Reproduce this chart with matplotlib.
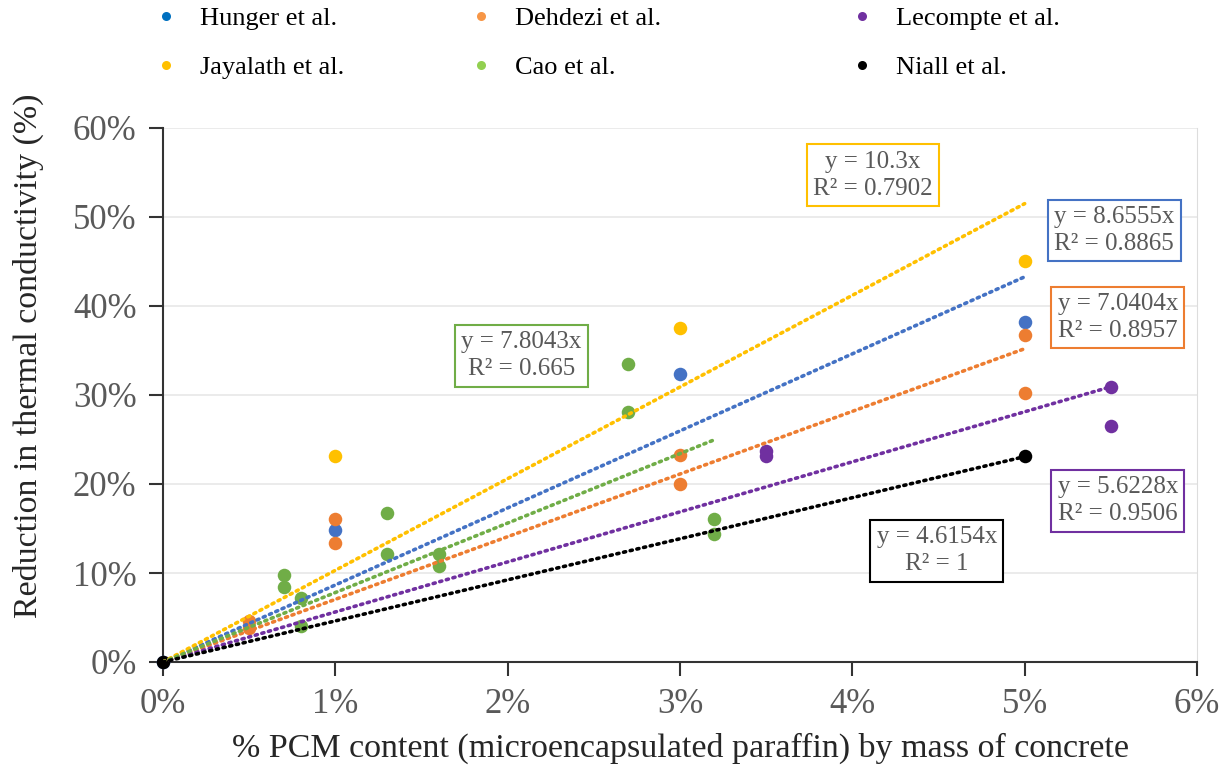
import matplotlib
matplotlib.use("Agg")
import matplotlib.pyplot as plt
import numpy as np
from matplotlib.ticker import PercentFormatter, MultipleLocator
from matplotlib.lines import Line2D

plt.rcParams['font.family'] = ['Liberation Serif', 'DejaVu Serif']

# data: fraction of PCM by mass vs reduction in thermal conductivity
names = ["Hunger et al.", "Dehdezi et al.", "Lecompte et al.",
         "Jayalath et al.", "Cao et al.", "Niall et al."]

hunger_x = [0.0, 0.01, 0.03, 0.05]
hunger_y = [0.0, 0.148, 0.324, 0.382]
dehdezi_x = [0.005, 0.005, 0.01, 0.01, 0.03, 0.03, 0.05, 0.05]
dehdezi_y = [0.046, 0.038, 0.161, 0.134, 0.233, 0.200, 0.367, 0.302]
lecompte_x = [0.035, 0.035, 0.055, 0.055]
lecompte_y = [0.237, 0.232, 0.309, 0.265]
jayalath_x = [0.01, 0.03, 0.05]
jayalath_y = [0.231, 0.375, 0.451]
cao_x = [0.007, 0.007, 0.008, 0.008, 0.013, 0.013, 0.016, 0.016, 0.027, 0.027, 0.032, 0.032]
cao_y = [0.098, 0.084, 0.072, 0.040, 0.167, 0.121, 0.121, 0.108, 0.335, 0.281, 0.161, 0.144]
niall_x = [0.0, 0.05]
niall_y = [0.0, 0.232]

# linear trendlines through origin (values from the chart labels)
slopes = [8.6555, 7.0404, 5.6228, 10.3, 7.8043, 4.6154]
r2 = ["0.8865", "0.8957", "0.9506", "0.7902", "0.665", "1"]
slope_txt = ["8.6555", "7.0404", "5.6228", "10.3", "7.8043", "4.6154"]
label_pos = [(0.0552, 0.485), (0.0554, 0.387), (0.0554, 0.181),
             (0.0412, 0.547), (0.0208, 0.344), (0.0449, 0.125)]

colors = ["#4472C4", "#ED7D31", "#7030A0", "#FFC000", "#70AD47", "#000000"]
legend_colors = ["#0070C0", "#F79646", "#7030A0", "#FFC000", "#92D050", "#000000"]

xs = [hunger_x, dehdezi_x, lecompte_x, jayalath_x, cao_x, niall_x]
ys = [hunger_y, dehdezi_y, lecompte_y, jayalath_y, cao_y, niall_y]

fig = plt.figure(figsize=(12.29, 7.67), dpi=100)
ax = fig.add_axes([163/1229, 1-662/767, (1197-163)/1229, (662-128)/767])

for x, y, c in zip(xs, ys, colors):
    ax.scatter(x, y, s=95, color=c, zorder=3, linewidths=0, clip_on=False)

for x, m, c, s, r, pos in zip(xs, slopes, colors, slope_txt, r2, label_pos):
    xx = np.array([0, max(x)])
    ax.plot(xx, m*xx, color=c, lw=2.6, linestyle=(0, (0.6, 1.3)),
            dash_capstyle='round', zorder=4)
    ax.text(pos[0], pos[1], "y = %sx\nR² = %s" % (s, r), ha='center', va='center',
            multialignment='center', fontsize=18, color='#595959', linespacing=1.3,
            zorder=5,
            bbox=dict(boxstyle='square,pad=0.25', facecolor='white', edgecolor=c, lw=1.5))

ax.set_xlim(0, 0.06)
ax.set_ylim(0, 0.6)
ax.xaxis.set_major_locator(MultipleLocator(0.01))
ax.yaxis.set_major_locator(MultipleLocator(0.1))
ax.xaxis.set_major_formatter(PercentFormatter(1.0, decimals=0))
ax.yaxis.set_major_formatter(PercentFormatter(1.0, decimals=0))
ax.grid(axis='y', color='#E8E8E8', lw=1.2, zorder=0)
ax.set_axisbelow(True)
ax.tick_params(axis='both', direction='out', length=10, width=1.5, color='#333333',
               labelsize=25, labelcolor='#595959', pad=9)
for sp in ['left', 'bottom']:
    ax.spines[sp].set_color('#333333')
    ax.spines[sp].set_linewidth(1.5)
ax.spines['top'].set_visible(False)
ax.spines['right'].set_color('#DDDDDD')

ax.set_xlabel("% PCM content (microencapsulated paraffin) by mass of concrete",
              fontsize=24.5, color='#262626', labelpad=8)
ax.set_ylabel("Reduction in thermal conductivity (%)", fontsize=24.5,
              color='#262626', labelpad=14)
ax.yaxis.set_label_coords(-0.115, 0.573)

# legend: three columns, two rows
col_x = [159, 474, 855]
for k in range(3):
    idx = [k, k + 3]
    handles = [Line2D([], [], marker='o', linestyle='none', markersize=6.5,
                      markeredgewidth=0, color=legend_colors[i]) for i in idx]
    fig.legend(handles, [names[i] for i in idx], loc='upper left',
               bbox_to_anchor=(col_x[k]/1229, 1-7/767), frameon=False,
               fontsize=19, handlelength=0.5, handletextpad=1.05,
               labelspacing=0.96, borderpad=0, borderaxespad=0)

fig.savefig("out.png", dpi=100)
